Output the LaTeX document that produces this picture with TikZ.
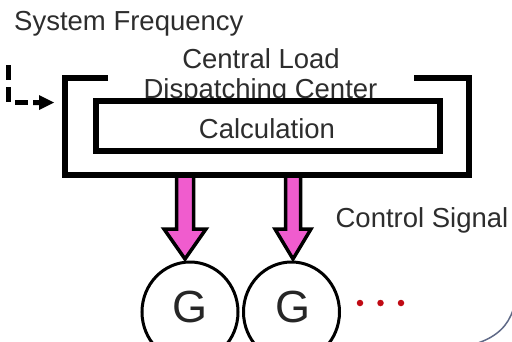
\documentclass[tikz,border=0pt]{standalone}
\usepackage{fontspec}
\setmainfont{Liberation Sans}
\usetikzlibrary{arrows.meta,shapes.geometric,calc}
\definecolor{pinkfill}{RGB}{240,92,206}
\definecolor{dotred}{RGB}{192,10,20}
\definecolor{txt}{RGB}{45,45,45}
\definecolor{cornerblue}{RGB}{95,105,135}
\begin{document}
\begin{tikzpicture}[x=1pt,y=-1pt,
  lbl/.style={font=\fontsize{27.5}{33}\selectfont, text=txt, inner sep=0pt, anchor=base},
  bracket/.style={line width=6pt, line join=miter},
  gen/.style={ellipse, draw=black, line width=3pt, minimum width=96pt, minimum height=100pt, inner sep=0pt},
  sigarrow/.style={draw=black, fill=pinkfill, line width=3.5pt, line join=miter},
  dashedarrow/.style={line width=5pt, dash pattern=on 15pt off 7pt},
  dotstyle/.style={circle, fill=dotred, minimum size=6.5pt, inner sep=0pt}]
\useasboundingbox (0,0) rectangle (512,341);
\fill[white] (0,0) rectangle (512,341);

% texts
\node[lbl, anchor=base west] (sysfreq) at (14,30) {System Frequency};
\node[lbl] (central) at (261,68) {Central Load};
\node[lbl] (dispatch) at (260.5,98) {Dispatching Center};

% outer bracket (dispatching center)
\coordinate (otl) at (65,77.5);
\coordinate (obr) at (468.5,175);
\draw[bracket] (108,77.5) -- (otl) -- (65,175) -- (obr) -- (468.5,77.5) -- (414,77.5);

% inner box (calculation)
\draw[bracket, fill=white] (96,101) rectangle (440,151);
\node[lbl] (calc) at (267,138) {Calculation};

% dashed frequency input arrow
\coordinate (fstart) at (8.5,65);
\coordinate (fcorner) at (8.5,102.5);
\coordinate (fend) at (54,102.5);
\draw[dashedarrow] (fstart) -- (fcorner) -- (28,102.5);
\fill (33,100) -- (39,100) -- (39,95) -- (54,102.5) -- (39,110) -- (39,105) -- (33,105) -- cycle;

% generators
\node[gen] (g1) at (190,312) {};
\node[gen] (g2) at (291.5,312) {};
\node[font=\fontsize{45}{50}\selectfont, text=black!85, inner sep=0pt, anchor=base] (g1t) at (190,322) {G};
\node[font=\fontsize{45}{50}\selectfont, text=black!85, inner sep=0pt, anchor=base] (g2t) at (293,322) {G};

% control signal arrows
\coordinate (a1) at (185,259);
\coordinate (a2) at (293,259);
\draw[sigarrow] ($(a1)+(-8.5,-81)$) -- ($(a1)+(-8.5,-30)$) -- ($(a1)+(-21,-30)$) -- (a1) -- ($(a1)+(21,-30)$) -- ($(a1)+(8.5,-30)$) -- ($(a1)+(8.5,-81)$);
\draw[sigarrow] ($(a2)+(-7.5,-81)$) -- ($(a2)+(-7.5,-30)$) -- ($(a2)+(-18,-30)$) -- (a2) -- ($(a2)+(18,-30)$) -- ($(a2)+(7.5,-30)$) -- ($(a2)+(7.5,-81)$);
% redraw bracket bottom over arrow tops
\draw[line width=6pt] (150,175) -- (330,175);

\node[lbl] (ctrl) at (422,227) {Control Signal};

% dots
\node[dotstyle] (d1) at (360,303) {};
\node[dotstyle] (d2) at (380.5,303) {};
\node[dotstyle] (d3) at (401,303) {};

% frame corner
\draw[cornerblue, line width=1.5pt] (478,343) .. controls (498,336) and (508,325) .. (513,310);
\end{tikzpicture}
\end{document}
